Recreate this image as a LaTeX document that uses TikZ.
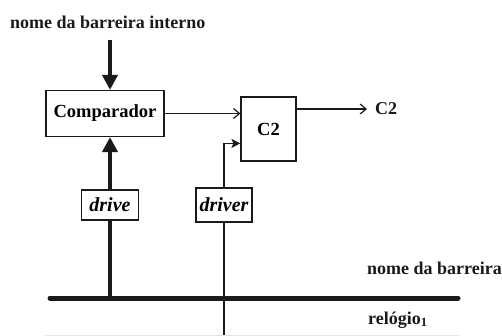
\documentclass[tikz,border=0pt]{standalone}
\usepackage{fontspec}
\setmainfont{Liberation Serif}
\usetikzlibrary{arrows.meta,positioning}
\definecolor{ink}{HTML}{1A1A1A}
\definecolor{faint}{HTML}{E6E6E6}

\begin{document}
\begin{tikzpicture}[x=1pt,y=-1pt,
          block/.style={
            draw=ink,
            line width=1.2pt,
            inner sep=0pt,
            font=\fontsize{18.5}{20}\selectfont\bfseries
          },
          tag/.style={
            draw=ink,
            line width=1.2pt,
            fill=white,
            inner sep=0pt,
            minimum width=57pt,
            font=\fontsize{20}{22}\selectfont\bfseries\itshape
          },
          lbl/.style={inner sep=0pt,anchor=west,text=ink,font=\fontsize{18}{20}\selectfont\bfseries},
          thin/.style={draw=ink,line width=1.2pt},
          thick/.style={draw=ink,line width=4pt},
          arr/.style={thin,-{Straight Barb[length=6pt,width=10pt,line width=1.2pt]}},
          clkarr/.style={thin,-{Stealth[length=9pt,width=9pt,inset=2pt]}},
          fatarr/.style={thick,-{Triangle[length=15pt,width=15pt]}},
          bus/.style={draw=ink,line width=5pt,line cap=round}
        ]
        \useasboundingbox (0,0) rectangle (502,336);
        \node[lbl] (title) at (10,22) {nome da barreira interno};
        \node[block,minimum width=118pt,minimum height=46pt] (comp) at (105,113.5) {Comparador};
        \node[block,minimum width=55pt,minimum height=64pt] (c2) at (268.5,129) {C2};
        \node[lbl] (out) at (375,109) {C2};
        \node[tag,minimum height=30pt] (drive) at (110,205) {drive};
        \node[tag,minimum width=56pt,minimum height=34pt] (driver) at (224,205) {driver};
        \node[lbl] (barr) at (367,268) {nome da barreira};
        \node[lbl] (rel) at (368,320) {relógio\textsubscript{1}};
        \coordinate (in) at (110,40);
        \coordinate (busL) at (50,298);
        \coordinate (busR) at (458,298);
        \coordinate (clkL) at (45,335);
        \coordinate (clkR) at (460,335);
        \coordinate (clk) at ([yshift=-47pt]c2.north west);
        \draw[faint,line width=1pt] (clkL) -- (clkR);
        \draw[bus] (busL) -- (busR);
        \draw[fatarr] (in) -- (in |- comp.north);
        \draw[arr] (comp.east) -- (comp.east -| c2.west);
        \draw[arr] (c2.east |- out) -- ([xshift=-8pt]out.west);
        \draw[thick] (drive.south |- busL) -- (drive.south);
        \draw[fatarr] (drive.north) -- (drive.north |- comp.south);
        \draw[thin] (driver.south |- clkR) -- (driver.south);
        \draw[clkarr] (driver.north) |- (clk);
      \end{tikzpicture}
\end{document}
